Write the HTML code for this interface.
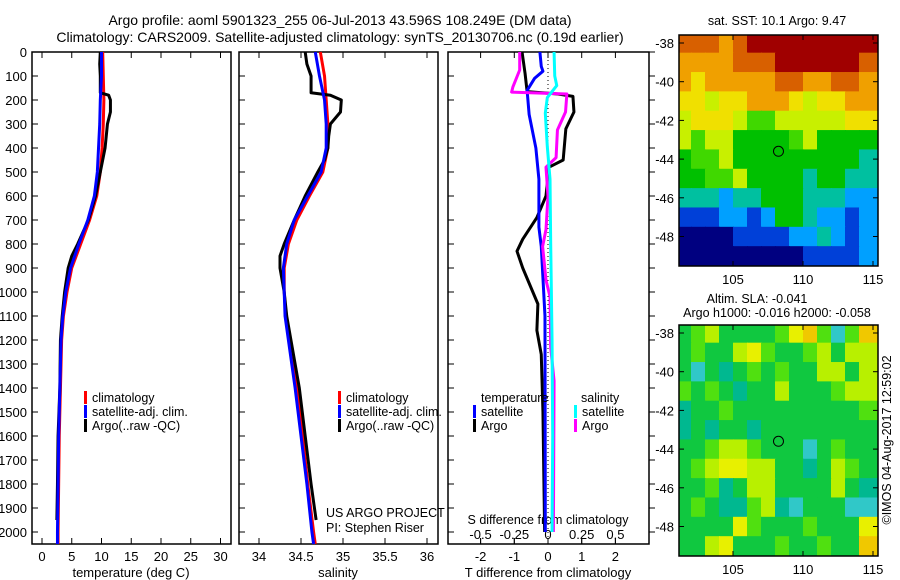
<!DOCTYPE html>
<html><head><meta charset="utf-8"><style>
html,body{margin:0;padding:0;background:#fff;}
svg{display:block;font-family:"Liberation Sans",sans-serif;}
</style></head><body>
<svg id="fig" width="900" height="580" viewBox="0 0 900 580" xmlns="http://www.w3.org/2000/svg">
<rect width="900" height="580" fill="#fff"/>
<text x="340" y="25" font-size="14" text-anchor="middle">Argo profile: aoml 5901323_255 06-Jul-2013 43.596S 108.249E (DM data)</text>
<text x="340" y="42" font-size="14" text-anchor="middle">Climatology: CARS2009. Satellite-adjusted climatology: synTS_20130706.nc (0.19d earlier)</text>
<g id="g"></g>
</svg>
<script>
// ---- depth grids and profiles ----
const tDepth  = [0,100,200,300,400,500,600,700,800,900,1000,1100,1200,1400,1600,1800,2000,2050];
const tClim   = [10.2,10.3,10.4,10.3,10.1,9.8,9.2,8.0,6.5,5.0,4.2,3.6,3.3,3.1,2.9,2.8,2.7,2.7];
const tSat    = [10.0,10.0,9.8,9.7,9.5,9.3,8.8,7.7,6.2,4.8,4.0,3.5,3.2,3.0,2.8,2.7,2.6,2.6];
const argoDepth = [0,50,100,170,180,200,250,300,350,400,450,500,600,700,800,850,900,1000,1100,1200,1400,1600,1800,1950];
const tArgo   = [9.8,9.7,9.8,9.8,11.2,11.5,11.5,11.0,10.8,10.6,10.2,9.8,9.0,7.8,6.0,5.0,4.4,3.8,3.4,3.1,3.0,2.7,2.6,2.5];
const sArgo   = [34.55,34.57,34.62,34.62,34.85,34.98,34.97,34.85,34.83,34.82,34.78,34.70,34.55,34.42,34.30,34.25,34.25,34.30,34.33,34.38,34.48,34.55,34.62,34.68];
const sClim   = [34.73,34.78,34.80,34.82,34.82,34.76,34.60,34.45,34.35,34.30,34.30,34.32,34.36,34.45,34.52,34.58,34.65,34.67];
const sSat    = [34.67,34.72,34.78,34.80,34.80,34.74,34.58,34.42,34.33,34.29,34.30,34.31,34.35,34.43,34.50,34.57,34.63,34.65];
// differences
const dtArgoDepth = [0,90,165,175,185,250,320,450,480,600,690,780,830,900,950,1050,1160,1260,1500,1800,2000];
const dtArgo  = [-0.77,-0.68,-0.62,0.3,0.74,0.77,0.53,0.45,0.03,-0.06,-0.33,-0.75,-0.92,-0.75,-0.6,-0.3,-0.33,-0.2,-0.15,-0.12,-0.1];
const dtSatDepth = [0,60,80,110,160,260,400,530,730,810,1100,2000];
const dtSat   = [-0.24,-0.2,-0.15,-0.4,-0.62,-0.56,-0.36,-0.27,-0.27,-0.2,-0.09,-0.08];
const dsArgoDepth = [0,75,145,167,175,250,325,440,480,600,740,810,950,1020,1230,1370,2000];
const dsArgo  = [-0.21,-0.21,-0.26,-0.27,0.14,0.13,0.07,0.06,-0.015,0.0,-0.015,-0.04,-0.015,0.015,0.02,0.045,0.04];
const dsSatDepth = [0,100,140,190,255,395,530,800,1200,1600,2000];
const dsSat   = [0.045,0.05,0.065,-0.005,-0.02,-0.005,0.015,0.02,0.03,0.035,0.03];
// axis ticks
const depthTicks = [0,100,200,300,400,500,600,700,800,900,1000,1100,1200,1300,1400,1500,1600,1700,1800,1900,2000];
const tTicks = [0,5,10,15,20,25,30];
const sTicks = [34,34.5,35,35.5,36];
const sTickLabels = ["34","34.5","35","35.5","36"];
const dTTicks = [-2,-1,0,1,2];
const dSTicks = [-0.5,-0.25,0,0.25,0.5];
const dSTickLabels = ["-0.5","-0.25","0","0.25","0.5"];
// maps (lat rows -38..-49, lon cols 101..114)
const sstGrid = [
[9,9,9,8,9,10,10,10,10,10,10,10,10,10],
[8,8,8,8,9,9,9,10,10,10,10,10,10,9],
[8,7,8,8,8,8,8,9,9,8,8,9,9,8],
[7,7,6,7,7,8,8,8,7,6,7,7,8,8],
[6,7,7,7,6,5,5,6,6,6,6,6,7,7],
[6,5,6,6,4,4,4,4,5,6,4,4,4,4],
[4,5,5,6,4,4,4,4,4,4,4,4,4,3],
[4,4,5,5,6,4,4,4,4,3,4,4,3,3],
[3,3,3,2,3,3,4,4,4,3,3,3,2,2],
[1,1,1,2,2,1,2,4,4,3,2,2,1,2],
[0,0,0,0,1,1,1,1,2,2,3,2,1,2],
[0,0,0,0,0,0,0,0,0,1,1,1,1,2]];
const slaGrid = [
[2,3,4,2,2,2,2,3,5,6,3,0,3,6],
[2,3,2,2,4,5,3,2,2,3,4,2,4,4],
[2,0,2,1,2,3,2,3,2,2,4,4,2,4],
[3,2,3,2,1,2,2,4,2,2,2,3,4,4],
[1,2,2,3,2,2,2,2,2,2,2,2,2,3],
[1,2,1,2,2,1,2,2,2,2,2,2,2,2],
[2,2,3,4,4,3,2,2,2,0,2,3,2,2],
[2,3,4,5,5,4,4,2,2,1,2,4,3,2],
[2,2,3,1,2,4,4,2,2,2,2,4,2,1],
[2,3,2,1,1,3,4,1,0,2,2,2,0,0],
[2,2,2,2,5,3,2,2,2,3,2,2,2,5],
[2,2,4,5,2,2,2,3,2,2,3,2,2,6]];
const latTicks = [-38,-40,-42,-44,-46,-48];
const lonTicks = [105,110,115];
const floatLon = 108.249, floatLat = -43.596;

const NS="http://www.w3.org/2000/svg";
const G=document.getElementById('g');
function el(tag,attrs,parent){const e=document.createElementNS(NS,tag);for(const k in attrs)e.setAttribute(k,attrs[k]);(parent||G).appendChild(e);return e;}
function txt(x,y,s,size,anchor,parent){const t=el('text',{x:x,y:y,'font-size':size,'text-anchor':anchor||'middle'},parent);t.textContent=s;return t;}

const TOP=52,BOT=544;
const yD=d=>TOP+d*0.24;
const xT=v=>42+v*5.95;
const xS=v=>259+(v-34)*84;
const xDT=v=>548+v*33.7;
const xDS=v=>548+v*134.8;

function frame(x0,x1,name){
  const r=el('rect',{x:x0,y:TOP,width:x1-x0,height:BOT-TOP,fill:'none',stroke:'#000','stroke-width':1.5});
  
  
  depthTicks.forEach(d=>{el('line',{x1:x0,x2:x0+6,y1:yD(d),y2:yD(d),stroke:'#000'});});
}
function line(xs,ds,fx,color,name,w){
  const pts=[];for(let i=0;i<xs.length;i++){pts.push(fx(xs[i])+','+yD(ds[i]));}
  const p=el('polyline',{points:pts.join(' '),fill:'none',stroke:color,'stroke-width':w||3,'stroke-linejoin':'round'});
  
  
}
function xticks(ticks,labels,fx,ylab){
  ticks.forEach((t,i)=>{const x=fx(t);
    el('line',{x1:x,x2:x,y1:BOT,y2:BOT-6,stroke:'#000'});
    el('line',{x1:x,x2:x,y1:TOP,y2:TOP+6,stroke:'#000'});
    const l=txt(x,ylab,labels[i],13);
    
    });
}
function legendItem(x,y,color,label){
  el('rect',{x:x,y:y-11,width:3,height:13,fill:color});
  const t=txt(x+8,y,label,12.5,'start');
  
  
}

depthTicks.forEach(d=>{const t=txt(27,yD(d)+5,String(d),13,'end');
  
  });

// panel 1: temperature
frame(32,231,'temperature-panel');
xticks(tTicks,tTicks.map(String),xT,561);
txt(131,577,'temperature (deg C)',13);
line(tClim,tDepth,xT,'#f00','temp-climatology-line');
line(tArgo,argoDepth,xT,'#000','temp-argo-line');
line(tSat,tDepth,xT,'#00f','temp-satellite-line');
legendItem(84,402,'#f00','climatology');
legendItem(84,416,'#00f','satellite-adj. clim.');
legendItem(84,430,'#000','Argo(..raw -QC)');

// panel 2: salinity
frame(239,438,'salinity-panel');
xticks(sTicks,sTickLabels,xS,561);
txt(338,577,'salinity',13);
line(sClim,tDepth,xS,'#f00','sal-climatology-line');
line(sArgo,argoDepth,xS,'#000','sal-argo-line');
line(sSat,tDepth,xS,'#00f','sal-satellite-line');
legendItem(338,402,'#f00','climatology');
legendItem(338,416,'#00f','satellite-adj. clim.');
legendItem(338,430,'#000','Argo(..raw -QC)');
txt(326,517,'US ARGO PROJECT',12.5,'start');
txt(326,532,'PI: Stephen Riser',12.5,'start');

// panel 3: differences
frame(448,649,'difference-panel');
el('line',{x1:548,x2:548,y1:TOP,y2:BOT,stroke:'#000','stroke-dasharray':'1,3'});
xticks(dTTicks,dTTicks.map(String),xDT,561);
dSTicks.forEach((t,i)=>{const x=xDS(t);el('line',{x1:x,x2:x,y1:BOT,y2:BOT-6,stroke:'#000'});
  txt(x,539,dSTickLabels[i],13);});
txt(548,524,'S difference from climatology',12.5);
txt(548,577,'T difference from climatology',13);
depthTicks.forEach(d=>{el('line',{x1:649,x2:655,y1:yD(d),y2:yD(d),stroke:'#000'});});
line(dtArgo,dtArgoDepth,xDT,'#000','tdiff-argo-line');
line(dtSat,dtSatDepth,xDT,'#00f','tdiff-satellite-line');
line(dsArgo,dsArgoDepth,xDS,'#f0f','sdiff-argo-line');
line(dsSat,dsSatDepth,xDS,'#0ff','sdiff-satellite-line');
txt(481,402,'temperature',12.5,'start');
legendItem(473,416,'#00f','satellite');
legendItem(473,430,'#000','Argo');
txt(581,402,'salinity',12.5,'start');
legendItem(574,416,'#0ff','satellite');
legendItem(574,430,'#f0f','Argo');

// maps
const sstColors=['#000080','#0040d8','#00a0ff','#00c0a0','#00c000','#40d800','#c8f000','#f0e000','#f0a000','#d86000','#a00000'];
const slaColors=['#30c8c8','#00b890','#10c840','#50e010','#b8f000','#e8f000','#f0c800'];
function map(y0,y1,lat38y,grid,colors,name){
  const x0=679,x1=878,pxLon=14,pxLat=19.35;
  const lx=lon=>733+(lon-105)*pxLon, ly=lat=>lat38y+(-38-lat)*pxLat;
  const g=el('g',{});
  
  
  const cp=el('clipPath',{id:name+'c'},g);
  el('rect',{x:x0,y:y0,width:x1-x0,height:y1-y0},cp);
  const cg=el('g',{'clip-path':'url(#'+name+'c)'},g);
  grid.forEach((row,r)=>row.forEach((v,c)=>{
    const lon=101+c, lat=-37.5-r;
    const cell=el('rect',{x:lx(lon)+(c===0?-20:0),y:ly(lat)+(r===0?-20:0),width:pxLon+1+(c===0?20:0)+(c===row.length-1?20:0),height:pxLat+1+(r===0?20:0)+(r===grid.length-1?20:0),fill:colors[v]},cg);
    
    
  }));
  el('rect',{x:x0,y:y0,width:x1-x0,height:y1-y0,fill:'none',stroke:'#000','stroke-width':1.5},g);
  latTicks.forEach(l=>{const y=ly(l);el('line',{x1:x0,x2:x0+5,y1:y,y2:y,stroke:'#000'},g);el('line',{x1:x1,x2:x1-5,y1:y,y2:y,stroke:'#000'},g);
    txt(674,y+5,String(l),13,'end',g);});
  lonTicks.forEach(l=>{const x=lx(l);el('line',{x1:x,x2:x,y1:y1,y2:y1-5,stroke:'#000'},g);el('line',{x1:x,x2:x,y1:y0,y2:y0+5,stroke:'#000'},g);
    txt(x,y1+18,String(l),13,'middle',g);});
  const m=el('circle',{cx:lx(floatLon),cy:ly(floatLat),r:5,fill:'none',stroke:'#000','stroke-width':1},g);
  
  
}
map(35,266,43,sstGrid,sstColors,'sst-map');
map(325,556,333,slaGrid,slaColors,'sla-map');
txt(777,25,'sat. SST: 10.1  Argo: 9.47',12.5);
txt(757,303,'Altim. SLA: -0.041',12.5);
txt(777,317,'Argo h1000: -0.016 h2000: -0.058',12.5);
const c=txt(0,0,'\u00a9IMOS 04-Aug-2017 12:59:02',12.5);
c.setAttribute('transform','translate(891,440) rotate(-90)');


</script>
</body></html>
